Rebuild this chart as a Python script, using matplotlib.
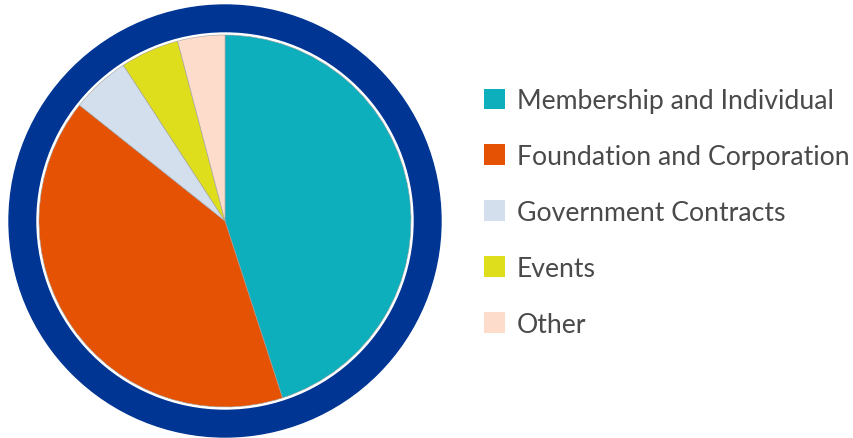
import matplotlib.pyplot as plt
from matplotlib.patches import Circle, Patch

# Revenue shares (percent)
labels = ['Membership and Individual', 'Foundation and Corporation',
          'Government Contracts', 'Events', 'Other']
shares = [45.0, 40.7, 5.1, 5.1, 4.1]
colors = ['#0DAFBD', '#E55204', '#D3DFEC', '#DEDE1D', '#FDDCCB']

W, H = 854, 439
fig = plt.figure(figsize=(W / 100, H / 100), dpi=100)
ax = fig.add_axes([0, 0, 1, 1])

cx, cy = 225, H - 222

# navy outer ring + thin white gap
ax.add_patch(Circle((cx, cy), 216, color='#003594', zorder=0))
ax.add_patch(Circle((cx, cy), 188, color='white', zorder=1))

wedges, _ = ax.pie(shares, colors=colors, startangle=90, counterclock=False,
                   center=(cx, cy), radius=186,
                   wedgeprops=dict(linewidth=0.4, edgecolor='#a0a0a0'))
for w in wedges:
    w.set_zorder(2)

ax.set_xlim(0, W)
ax.set_ylim(0, H)
ax.set_aspect('equal')
ax.axis('off')

handles = [Patch(facecolor=c, edgecolor='none') for c in colors]
leg = ax.legend(handles, labels, loc='upper left',
                bbox_to_anchor=(484 / W, 1 - 89 / H),
                frameon=False, handlelength=0.8, handleheight=0.8,
                handletextpad=0.42, labelspacing=1.16, borderpad=0, borderaxespad=0,
                prop={'family': 'Lato', 'size': 19.2})
for t in leg.get_texts():
    t.set_color('#4a4a4a')

fig.savefig('out.png', dpi=100)
